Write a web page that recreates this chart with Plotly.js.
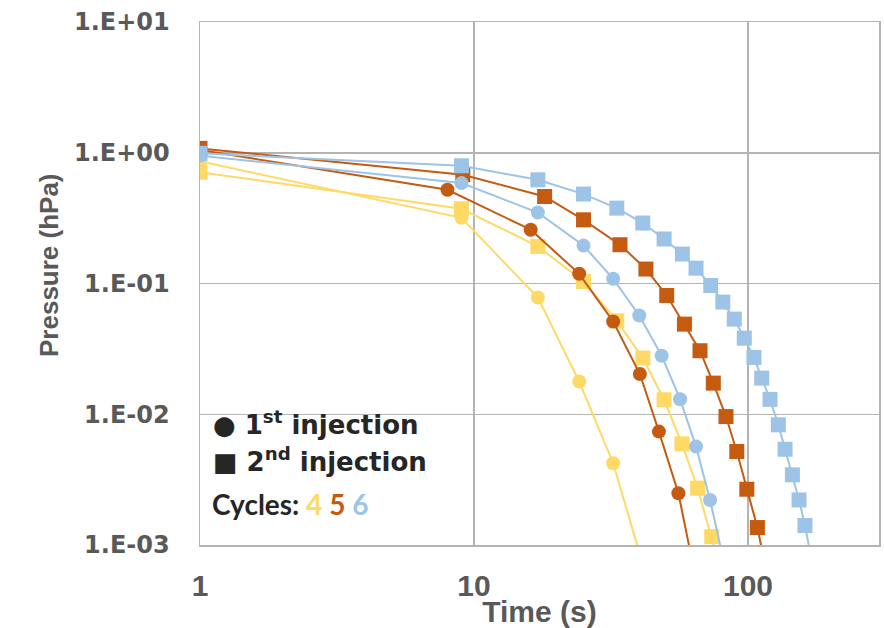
<!DOCTYPE html>
<html>
<head>
<meta charset="utf-8">
<script src="https://cdn.plot.ly/plotly-3.0.1.min.js"></script>
<style>html,body{margin:0;padding:0;background:#fff;}#chart{width:884px;height:628px;}</style>
</head>
<body>
<div id="chart"></div>
<script>
// Cycle 4 (yellow)
const time_c4_1 = [1, 9.0, 17.1, 24.2, 32.2, 41.4];
const p_c4_1    = [0.86, 0.318, 0.0781, 0.0178, 0.00422, 0.0007];
const time_c4_2 = [1, 9.0, 17.1, 25.1, 33.2, 41.3, 49.4, 57.4, 65.5, 73.7, 82];
const p_c4_2    = [0.71, 0.373, 0.192, 0.1036, 0.0518, 0.0269, 0.0129, 0.00594, 0.00272, 0.00116, 0.0005];
// Cycle 5 (orange)
const time_c5_1 = [1, 8.0, 16.1, 24.2, 32.2, 40.3, 47.3, 55.7, 63];
const p_c5_1    = [1.05, 0.521, 0.258, 0.1186, 0.0512, 0.0203, 0.00737, 0.00249, 0.0007];
const time_c5_2 = [1, 9.1, 18.1, 25.1, 34.1, 42.4, 50.5, 58.6, 66.8, 74.7, 83.1, 91.0, 99.0, 108.2, 116];
const p_c5_2    = [1.08, 0.679, 0.463, 0.307, 0.198, 0.129, 0.081, 0.0489, 0.0306, 0.0173, 0.0096, 0.00519, 0.00267, 0.00136, 0.00067];
// Cycle 6 (blue)
const time_c6_1 = [1, 9.0, 17.1, 25.1, 32.2, 40.1, 48.4, 56.5, 64.6, 72.7, 81];
const p_c6_1    = [0.95, 0.586, 0.349, 0.195, 0.1086, 0.0569, 0.0280, 0.01304, 0.00566, 0.00221, 0.0008];
const time_c6_2 = [1, 9.0, 17.1, 25.1, 33.2, 41.3, 49.4, 57.6, 64.6, 73.1, 80.9, 89.1, 96.9, 105.1, 112.2, 120.3, 129.0, 136.5, 145.2, 153.5, 161.4, 170];
const p_c6_2    = [0.99, 0.795, 0.621, 0.483, 0.377, 0.290, 0.219, 0.168, 0.131, 0.0966, 0.0721, 0.0534, 0.0382, 0.0272, 0.0189, 0.0130, 0.0083, 0.0054, 0.00344, 0.00221, 0.00141, 0.0008];

const yTickVals = [0.001, 0.01, 0.1, 1, 10];
const yTickText = ['1.E-03', '1.E-02', '1.E-01', '1.E+00', '1.E+01'];
const xTickVals = [1, 10, 100];
const xTickText = ['1', '10', '100'];

const colors = {c4: '#FFD966', c5: '#C55A11', c6: '#9DC3E6'};

function tr(x, y, color, symbol, size) {
  return {
    x: x, y: y, type: 'scatter', mode: 'lines+markers',
    line: {color: color, width: 2},
    marker: {color: color, symbol: symbol, size: size, line: {width: 0}},
    showlegend: false, hoverinfo: 'skip'
  };
}

const data = [
  tr(time_c4_1, p_c4_1, colors.c4, 'circle', 14),
  tr(time_c4_2, p_c4_2, colors.c4, 'square', 15),
  tr(time_c5_1, p_c5_1, colors.c5, 'circle', 14),
  tr(time_c5_2, p_c5_2, colors.c5, 'square', 15),
  tr(time_c6_1, p_c6_1, colors.c6, 'circle', 14),
  tr(time_c6_2, p_c6_2, colors.c6, 'square', 15)
];

const gridC = '#B4B4B4';
const plotL = 200, plotR = 879, plotT = 22, plotB = 545;
function px(x) { return (x - plotL) / (plotR - plotL); }
function py(y) { return (plotB - y) / (plotB - plotT); }

const layout = {
  width: 884, height: 628,
  margin: {l: plotL, r: 884 - plotR, t: plotT, b: 628 - plotB, pad: 0},
  paper_bgcolor: '#fff', plot_bgcolor: '#fff',
  xaxis: {
    type: 'log', range: [0, 2.478], autorange: false,
    tickvals: xTickVals, ticktext: xTickText, ticks: '',
    ticklabelstandoff: 13,
    tickfont: {family: 'Liberation Sans, Arial, sans-serif', size: 30, color: '#595959', weight: 'bold'},
    showgrid: true, gridcolor: gridC, gridwidth: 1.5,
    showline: true, linecolor: gridC, linewidth: 1.5, mirror: true,
    zeroline: false,
    title: {text: '<b>Time (s)</b>', standoff: 0,
      font: {family: 'Liberation Sans, Arial, sans-serif', size: 30, color: '#595959'}}
  },
  yaxis: {
    type: 'log', range: [-3, 1], autorange: false,
    tickvals: yTickVals, ticktext: yTickText, ticks: '',
    ticklabelstandoff: 24,
    tickfont: {family: 'DejaVu Sans, sans-serif', size: 24, color: '#595959', weight: 'bold'},
    showgrid: true, gridcolor: gridC, gridwidth: 1.5,
    showline: true, linecolor: gridC, linewidth: 1.5, mirror: true,
    zeroline: false
  },
  annotations: [
    {xref: 'paper', yref: 'paper', x: px(49), y: py(265), xanchor: 'center', yanchor: 'middle', showarrow: false,
     textangle: -90, text: '<b>Pressure (hPa)</b>',
     font: {family: 'Liberation Sans, Arial, sans-serif', size: 26, color: '#595959'}},
    {xref: 'paper', yref: 'paper', x: px(211), y: py(423), xanchor: 'left', yanchor: 'middle', showarrow: false,
     text: '<b>● 1<sup>st</sup> injection</b>',
     font: {family: 'DejaVu Sans, sans-serif', size: 26, color: '#262626'}},
    {xref: 'paper', yref: 'paper', x: px(211), y: py(460), xanchor: 'left', yanchor: 'middle', showarrow: false,
     text: '<b>■ 2<sup>nd</sup> injection</b>',
     font: {family: 'DejaVu Sans, sans-serif', size: 26, color: '#262626'}},
    {xref: 'paper', yref: 'paper', x: px(210), y: py(504), xanchor: 'left', yanchor: 'middle', showarrow: false,
     text: '<b>Cycles: <span style="color:' + colors.c4 + '">4</span> <span style="color:' + colors.c5 + '">5</span> <span style="color:' + colors.c6 + '">6</span></b>',
     font: {family: 'Lato, sans-serif', size: 28, color: '#262626'}}
  ]
};

Plotly.newPlot('chart', data, layout, {staticPlot: true, displayModeBar: false});
</script>
</body>
</html>
